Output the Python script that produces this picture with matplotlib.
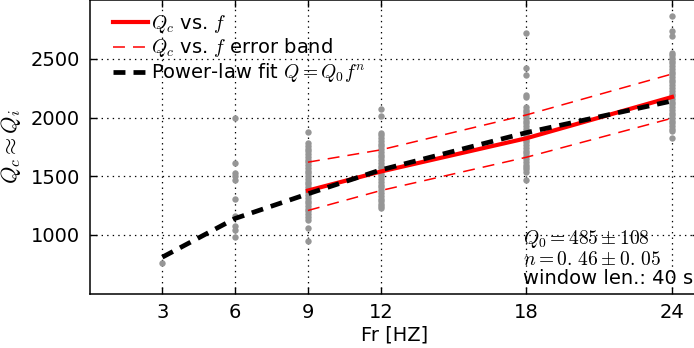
import matplotlib
matplotlib.use('Agg')
import matplotlib.pyplot as plt

plt.rcParams['mathtext.fontset'] = 'cm'
plt.rcParams['font.family'] = 'DejaVu Sans'
plt.rcParams['font.size'] = 14
plt.rcParams['lines.scale_dashes'] = False

q_3 = [760]
q_6 = [2000, 1610, 1530, 1500, 1470, 1310, 1160, 1075, 1040, 985]
q_9 = [1875, 1780, 1760, 1735, 1712, 1690, 1665, 1640, 1618, 1595, 1570, 1548,
       1525, 1500, 1478, 1455, 1430, 1408, 1385, 1362, 1340, 1315, 1292, 1270,
       1245, 1222, 1200, 1178, 1152, 1130, 1060, 950]
q_12 = [2070, 2015, 1870, 1848, 1825, 1800, 1778, 1755, 1730, 1708, 1685, 1660,
        1638, 1615, 1590, 1568, 1545, 1520, 1498, 1475, 1450, 1428, 1405, 1380,
        1358, 1335, 1310, 1288, 1265, 1245, 1230]
q_18 = [2720, 2420, 2360, 2195, 2175, 2090, 2068, 2045, 2020, 1998, 1975, 1950,
        1928, 1905, 1880, 1858, 1835, 1810, 1788, 1765, 1740, 1718, 1695, 1670,
        1648, 1625, 1600, 1578, 1558, 1540, 1470]
q_24 = [2870, 2735, 2695, 2555, 2532, 2510, 2485, 2462, 2440, 2415, 2392, 2370,
        2345, 2322, 2300, 2275, 2252, 2230, 2205, 2182, 2160, 2135, 2112, 2090,
        2065, 2042, 2020, 1995, 1972, 1950, 1928, 1905, 1885, 1830]
meas = {3: q_3, 6: q_6, 9: q_9, 12: q_12, 18: q_18, 24: q_24}

# Qc vs f and its error band
qc_f = [9, 12, 18, 24]
qc = [1378, 1540, 1824, 2176]
qc_hi = [1620, 1725, 2023, 2372]
qc_lo = [1208, 1378, 1662, 1995]

# power-law fit
fit_f = [3, 6, 9, 12, 18, 24]
fit_q = [810, 1140, 1350, 1554, 1872, 2142]

fig = plt.figure(figsize=(6.94, 3.48), dpi=100)
ax = fig.add_axes([0.129, 0.1566, 0.8778, 0.8424])

for f, vals in meas.items():
    ax.plot([f] * len(vals), vals, 'o', color='#969696', markersize=4.6,
            markeredgewidth=0, zorder=2)

ax.plot(qc_f, qc, '-', color='r', lw=3, label='$Q_c$ vs. $f$', zorder=3)
ax.plot(qc_f, qc_hi, color='r', lw=1.1, dashes=(8.6, 5.8),
        label='$Q_c$ vs. $f$ error band', zorder=3)
ax.plot(qc_f, qc_lo, color='r', lw=1.1, dashes=(8.6, 5.8), zorder=3)
ax.plot(fit_f, fit_q, color='k', lw=3.4, dashes=(8.6, 5.8),
        label='Power-law fit $Q=Q_0f^n$', zorder=4)

ax.set_xlim(0, 25.1)
ax.set_ylim(500, 3000)
ax.set_xticks([3, 6, 9, 12, 18, 24])
ax.set_yticks([1000, 1500, 2000, 2500])
ax.tick_params(direction='in', top=True, right=True, length=5, width=1,
               labelsize=14, pad=7)
ax.grid(True, color='k', linestyle=(0, (1, 3)), linewidth=0.9)
ax.set_axisbelow(True)
for s in ax.spines.values():
    s.set_linewidth(1.1)

ax.set_xlabel('Fr [HZ]', fontsize=14, labelpad=2)
ax.set_ylabel(r'$Q_c \approx Q_i$', fontsize=16, labelpad=5)

ax.text(0.712, 0.02, '$Q_0=485\\pm108$\n$n=0.\\,46\\pm0.\\,05$\nwindow len.: 40 s',
        transform=ax.transAxes, ha='left', va='bottom', fontsize=14,
        linespacing=1.0)

ax.legend(loc='upper left', bbox_to_anchor=(0.025, 0.985), borderaxespad=0,
          frameon=False, fontsize=14, handlelength=1.8, handletextpad=0.2,
          labelspacing=0.1)

fig.savefig('out.png', dpi=100)
